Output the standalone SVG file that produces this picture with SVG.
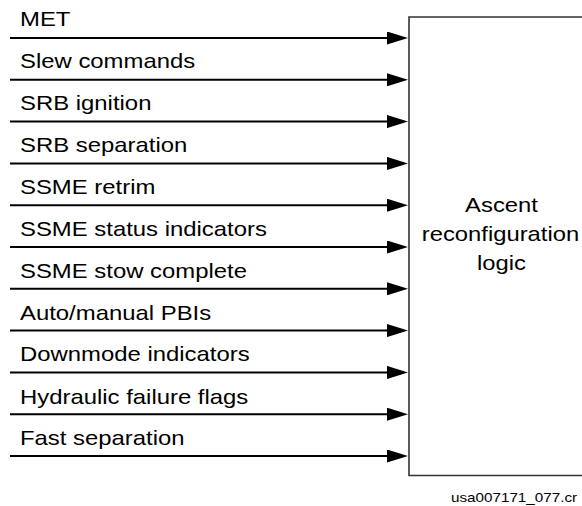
<svg xmlns="http://www.w3.org/2000/svg" width="582" height="506" viewBox="0 0 582 506">
<style>
.lbl{font-family:"Liberation Sans",Arial,sans-serif;font-size:20.6px;fill:#000}
.ctr{font-family:"Liberation Sans",Arial,sans-serif;font-size:20.6px;fill:#000;text-anchor:middle}
.ft{font-family:"Liberation Sans",Arial,sans-serif;font-size:13.6px;fill:#000}
.conn{stroke:#000;stroke-width:2;fill:none;marker-end:url(#ah)}
</style>
<defs>
<marker id="ah" viewBox="0 0 21 13" refX="13" refY="6.5" markerWidth="21" markerHeight="13" markerUnits="userSpaceOnUse" orient="auto">
<path d="M0,0 L21,6.5 L0,13 z" fill="#000"/>
</marker>
</defs>
<rect width="582" height="506" fill="#fff"/>
<g id="logic">
<path d="M590,17 H409 V475.5 H590" fill="#fff" stroke="#333" stroke-width="1.6"/>
<g transform="scale(1.155,1)">
<text class="ctr" x="434.2" y="212">Ascent</text>
<text class="ctr" x="433.3" y="241">reconfiguration</text>
<text class="ctr" x="434.2" y="270">logic</text>
</g>
</g>
<g id="connectors">
<path class="conn" d="M10,38 H400"/>
<path class="conn" d="M10,79.8 H400"/>
<path class="conn" d="M10,121.6 H400"/>
<path class="conn" d="M10,163.4 H400"/>
<path class="conn" d="M10,205.2 H400"/>
<path class="conn" d="M10,247 H400"/>
<path class="conn" d="M10,288.8 H400"/>
<path class="conn" d="M10,330.6 H400"/>
<path class="conn" d="M10,372.4 H400"/>
<path class="conn" d="M10,414.2 H400"/>
<path class="conn" d="M10,456 H400"/>
</g>
<g id="labels" transform="scale(1.16,1)">
<text class="lbl" x="17.24" y="26.5">MET</text>
<text class="lbl" x="17.24" y="68.5">Slew commands</text>
<text class="lbl" x="17.24" y="110.5">SRB ignition</text>
<text class="lbl" x="17.24" y="152.3">SRB separation</text>
<text class="lbl" x="17.24" y="194.1">SSME retrim</text>
<text class="lbl" x="17.24" y="236.5">SSME status indicators</text>
<text class="lbl" x="17.24" y="278">SSME stow complete</text>
<text class="lbl" x="17.24" y="319.7">Auto/manual PBIs</text>
<text class="lbl" x="17.24" y="361.5">Downmode indicators</text>
<text class="lbl" x="17.24" y="404.5">Hydraulic failure flags</text>
<text class="lbl" x="17.24" y="445.5">Fast separation</text>
</g>
<g transform="scale(1.12,1)">
<text class="ft" x="402.7" y="502.5">usa007171_077.cr</text>
</g>
</svg>
